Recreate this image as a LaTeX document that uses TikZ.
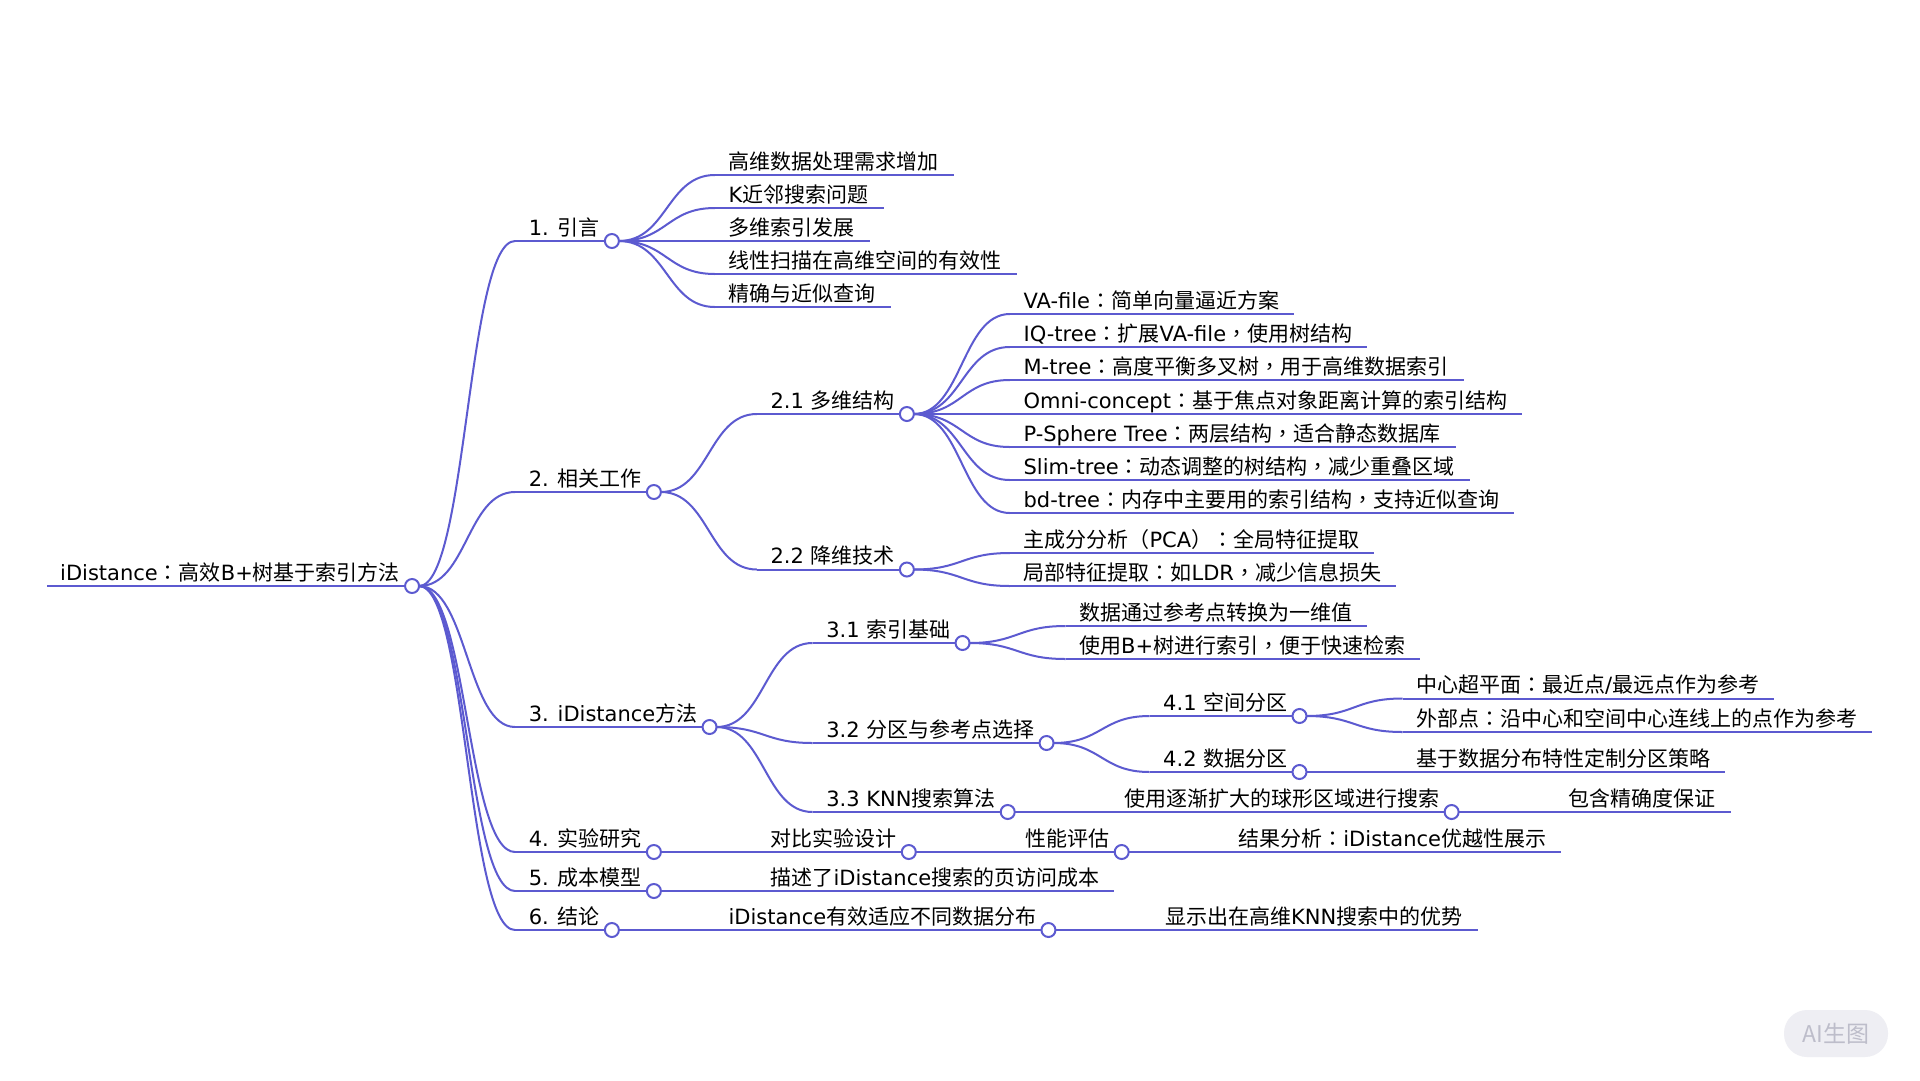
\documentclass[tikz,border=0pt]{standalone}
\usepackage{fontspec}
\setmainfont{DejaVu Sans}
\newfontfamily\cjkfont{Noto Sans CJK SC}
\newfontfamily\punctfont{Noto Sans CJK TC}
\usetikzlibrary{calc}

% automatic font switching between Latin text, ideographs and fullwidth punctuation
\XeTeXinterchartokenstate=1
\newXeTeXintercharclass\hanclass
\newXeTeXintercharclass\punctclass
\count255="4E00
\loop\XeTeXcharclass\count255=\hanclass\advance\count255 by 1\ifnum\count255<"A000\repeat
\count255="3000
\loop\XeTeXcharclass\count255=\punctclass\advance\count255 by 1\ifnum\count255<"3040\repeat
\count255="FF00
\loop\XeTeXcharclass\count255=\punctclass\advance\count255 by 1\ifnum\count255<"FFF0\repeat
\XeTeXinterchartoks 0 \hanclass = {\cjkfont}
\XeTeXinterchartoks 4095 \hanclass = {\cjkfont}
\XeTeXinterchartoks \punctclass \hanclass = {\cjkfont}
\XeTeXinterchartoks 0 \punctclass = {\punctfont}
\XeTeXinterchartoks 4095 \punctclass = {\punctfont}
\XeTeXinterchartoks \hanclass \punctclass = {\punctfont}
\XeTeXinterchartoks \hanclass 0 = {\rmfamily}
\XeTeXinterchartoks \punctclass 0 = {\rmfamily}

\definecolor{mmline}{HTML}{5C5AD0}
\definecolor{wmfill}{HTML}{EEEEF3}
\definecolor{wmtext}{HTML}{BDBDCA}

\tikzset{
  lbl/.style={anchor=base west, inner sep=0pt, text=black,
    font=\fontsize{21}{25}\selectfont},
  edge/.style={draw=mmline, line width=2pt},
  knob/.style={circle, draw=mmline, fill=white, line width=2pt,
    minimum size=14pt, inner sep=0pt}
}

% child label: start of its underline lies 103 right of the parent's knob
\newcommand\mmchild[4]{%
  \path let \p1=($(#1-c)+(103,0)$) in coordinate (#2-s) at (\x1,-#3pt);
  \node[lbl] (#2) at ($(#2-s)+(13.5,-6)$) {#4};
  \draw[edge] let \p1=($(#1-c)+(7,0)$), \p2=(#2-s) in
    (\p1) .. controls ({0.5*\x1+0.5*\x2},\y1) and ({0.5*\x1+0.5*\x2},\y2) .. (\p2);
}
% end of the underline: knob position for inner nodes, plain end for leaves
\newcommand\mmbranch[1]{%
  \coordinate (#1-c) at ($(#1.base east)+(12,6)$);
  \draw[edge] (#1-s) -- (#1-c);
}
\newcommand\mmleaf[1]{%
  \coordinate (#1-c) at ($(#1.base east)+(15,6)$);
  \draw[edge] (#1-s) -- (#1-c);
}

\begin{document}
\begin{tikzpicture}[x=1pt,y=-1pt]
\fill[white] (0,0) rectangle (1920,1080);
\useasboundingbox (0,0) rectangle (1920,1080);

% root
\coordinate (root-s) at (47,586);
\node[lbl] (root) at (60,580) {iDistance：高效B+树基于索引方法};
\mmbranch{root}

% 1. introduction
\mmchild{root}{n1}{241}{1. 引言}\mmbranch{n1}
\mmchild{n1}{a1}{175}{高维数据处理需求增加}\mmleaf{a1}
\mmchild{n1}{a2}{208}{K近邻搜索问题}\mmleaf{a2}
\mmchild{n1}{a3}{241}{多维索引发展}\mmleaf{a3}
\mmchild{n1}{a4}{274}{线性扫描在高维空间的有效性}\mmleaf{a4}
\mmchild{n1}{a5}{307}{精确与近似查询}\mmleaf{a5}

% 2. related work
\mmchild{root}{n2}{492}{2. 相关工作}\mmbranch{n2}
\mmchild{n2}{b1}{414}{2.1 多维结构}\mmbranch{b1}
\mmchild{b1}{c1}{314}{VA-file：简单向量逼近方案}\mmleaf{c1}
\mmchild{b1}{c2}{347}{IQ-tree：扩展VA-file，使用树结构}\mmleaf{c2}
\mmchild{b1}{c3}{380}{M-tree：高度平衡多叉树，用于高维数据索引}\mmleaf{c3}
\mmchild{b1}{c4}{414}{Omni-concept：基于焦点对象距离计算的索引结构}\mmleaf{c4}
\mmchild{b1}{c5}{447}{P-Sphere Tree：两层结构，适合静态数据库}\mmleaf{c5}
\mmchild{b1}{c6}{480}{Slim-tree：动态调整的树结构，减少重叠区域}\mmleaf{c6}
\mmchild{b1}{c7}{513}{bd-tree：内存中主要用的索引结构，支持近似查询}\mmleaf{c7}
\mmchild{n2}{b2}{569.5}{2.2 降维技术}\mmbranch{b2}
\mmchild{b2}{d1}{553}{主成分分析（PCA）：全局特征提取}\mmleaf{d1}
\mmchild{b2}{d2}{586}{局部特征提取：如LDR，减少信息损失}\mmleaf{d2}

% 3. method
\mmchild{root}{n3}{727}{3. iDistance方法}\mmbranch{n3}
\mmchild{n3}{e1}{643}{3.1 索引基础}\mmbranch{e1}
\mmchild{e1}{f1}{626}{数据通过参考点转换为一维值}\mmleaf{f1}
\mmchild{e1}{f2}{659}{使用B+树进行索引，便于快速检索}\mmleaf{f2}
\mmchild{n3}{e2}{743}{3.2 分区与参考点选择}\mmbranch{e2}
\mmchild{e2}{g1}{716}{4.1 空间分区}\mmbranch{g1}
\mmchild{g1}{h1}{698.5}{中心超平面：最近点/最远点作为参考}\mmleaf{h1}
\mmchild{g1}{h2}{732}{外部点：沿中心和空间中心连线上的点作为参考}\mmleaf{h2}
\mmchild{e2}{g2}{772}{4.2 数据分区}\mmbranch{g2}
\mmchild{g2}{h3}{772}{基于数据分布特性定制分区策略}\mmleaf{h3}
\mmchild{n3}{e3}{812}{3.3 KNN搜索算法}\mmbranch{e3}
\mmchild{e3}{i1}{812}{使用逐渐扩大的球形区域进行搜索}\mmbranch{i1}
\mmchild{i1}{i2}{812}{包含精确度保证}\mmleaf{i2}

% 4. experiments
\mmchild{root}{n4}{852}{4. 实验研究}\mmbranch{n4}
\mmchild{n4}{j1}{852}{对比实验设计}\mmbranch{j1}
\mmchild{j1}{j2}{852}{性能评估}\mmbranch{j2}
\mmchild{j2}{j3}{852}{结果分析：iDistance优越性展示}\mmleaf{j3}

% 5. cost model
\mmchild{root}{n5}{891}{5. 成本模型}\mmbranch{n5}
\mmchild{n5}{k1}{891}{描述了iDistance搜索的页访问成本}\mmleaf{k1}

% 6. conclusion
\mmchild{root}{n6}{930}{6. 结论}\mmbranch{n6}
\mmchild{n6}{l1}{930}{iDistance有效适应不同数据分布}\mmbranch{l1}
\mmchild{l1}{l2}{930}{显示出在高维KNN搜索中的优势}\mmleaf{l2}

% knobs on top of the lines
\foreach \n in {root,n1,n2,b1,b2,n3,e1,e2,g1,g2,e3,i1,n4,j1,j2,n5,n6,l1}
  \node[knob] at (\n-c) {};

% badge
\node[fill=wmfill, rounded corners=23pt, minimum width=104pt, minimum height=47pt,
  inner sep=0pt, text=wmtext, font=\cjkfont\fontsize{23}{27}\selectfont]
  (badge) at (1836,1033.5) {AI生图};
\end{tikzpicture}
\end{document}
